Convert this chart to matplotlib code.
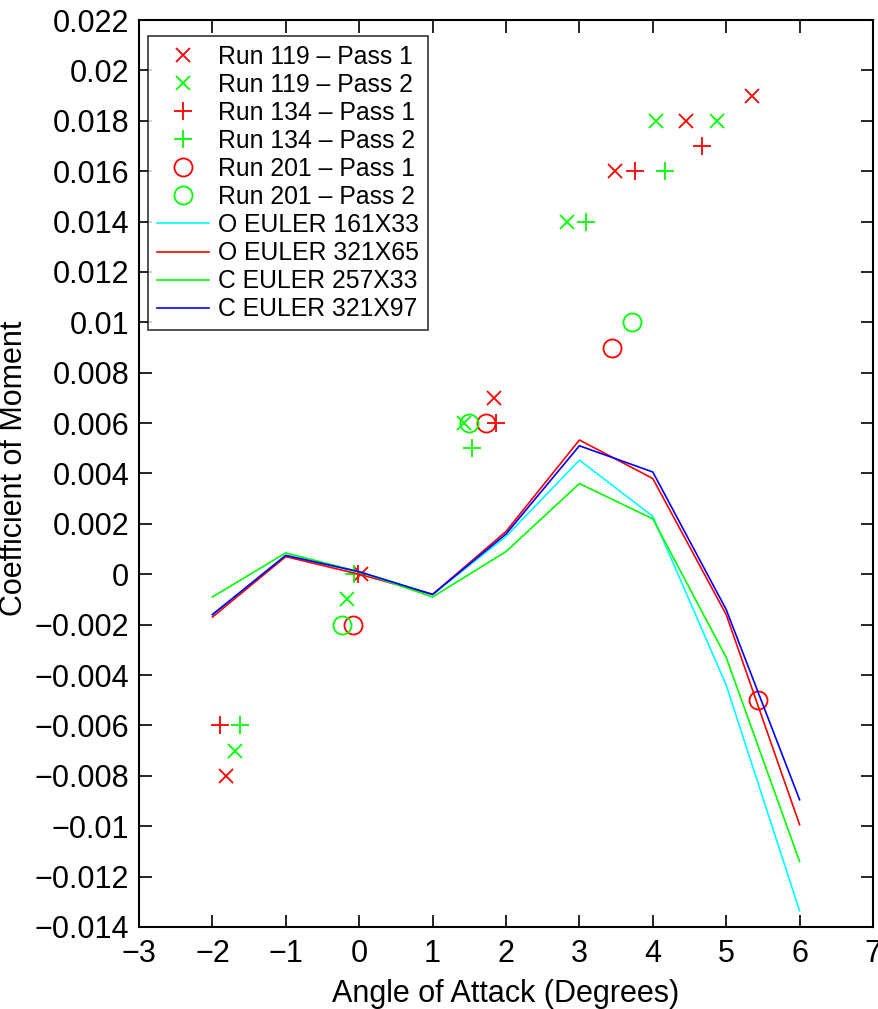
# Coefficient of moment vs angle of attack, experiment runs vs Euler solutions

import matplotlib
matplotlib.use("Agg")
import matplotlib.pyplot as plt
from matplotlib.ticker import FuncFormatter

plt.rcParams['font.family'] = ['Liberation Sans', 'DejaVu Sans']

# wind tunnel runs (angle, cm)
r119p1_x = [-1.81, 0.02, 1.84, 3.49, 4.45, 5.35]
r119p1_y = [-0.008, 0.0, 0.007, 0.016, 0.018, 0.019]
r119p2_x = [-1.69, -0.17, 1.43, 2.83, 4.05, 4.87]
r119p2_y = [-0.007, -0.001, 0.006, 0.014, 0.018, 0.018]
r134p1_x = [-1.89, -0.02, 1.87, 3.76, 4.67]
r134p1_y = [-0.006, 0.0, 0.006, 0.016, 0.017]
r134p2_x = [-1.63, -0.07, 1.53, 3.09, 4.17]
r134p2_y = [-0.006, 0.0, 0.005, 0.014, 0.016]
r201p1_x = [-0.08, 1.73, 3.45, 5.44]
r201p1_y = [-0.002, 0.006, 0.009, -0.005]
r201p2_x = [-0.24, 1.50, 3.71]
r201p2_y = [-0.002, 0.006, 0.010]

# euler solutions
alpha = [-2, -1, 0, 1, 2, 3, 4, 5, 6]
o161 = [-0.0016, 0.00075, 0.0001, -0.0008, 0.0015, 0.00453, 0.0023, -0.0044, -0.01336]
o321 = [-0.0017, 0.0007, 0.0, -0.0008, 0.0017, 0.00533, 0.0038, -0.0016, -0.00994]
c257 = [-0.0009, 0.00085, 0.0001, -0.0009, 0.0009, 0.0036, 0.0022, -0.0033, -0.0114]
c321 = [-0.0016, 0.00075, 0.0001, -0.0008, 0.0016, 0.0051, 0.00406, -0.0014, -0.00895]

fig = plt.figure(figsize=(8.79, 10.09), dpi=100)
ax = fig.add_axes([139/879, 1-927/1009, (873-139)/879, (927-20)/1009])

red = '#ff0000'
green = '#00ff00'
ax.plot(r119p1_x, r119p1_y, 'x', color=red, ms=10, mew=1.3, label='Run 119 – Pass 1')
ax.plot(r119p2_x, r119p2_y, 'x', color=green, ms=10, mew=1.3, label='Run 119 – Pass 2')
ax.plot(r134p1_x, r134p1_y, '+', color=red, ms=13, mew=1.3, label='Run 134 – Pass 1')
ax.plot(r134p2_x, r134p2_y, '+', color=green, ms=13, mew=1.3, label='Run 134 – Pass 2')
ax.plot(r201p1_x, r201p1_y, 'o', color=red, mfc='none', ms=13, mew=1.3, label='Run 201 – Pass 1')
ax.plot(r201p2_x, r201p2_y, 'o', color=green, mfc='none', ms=13, mew=1.3, label='Run 201 – Pass 2')
ax.plot(alpha, o161, color='#00ffff', lw=1.2, label='O EULER 161X33')
ax.plot(alpha, o321, color=red, lw=1.2, label='O EULER 321X65')
ax.plot(alpha, c257, color=green, lw=1.2, label='C EULER 257X33')
ax.plot(alpha, c321, color='#0000ff', lw=1.2, label='C EULER 321X97')

ax.set_xlim(-3, 7)
ax.set_ylim(-0.014, 0.022)
ax.set_xticks(range(-3, 8))
ax.set_yticks([i * 0.002 for i in range(-7, 12)])
ax.xaxis.set_major_formatter(FuncFormatter(lambda v, p: ('%g' % v).replace('-', '\u2212')))
ax.yaxis.set_major_formatter(FuncFormatter(lambda v, p: ('%g' % round(v, 4)).replace('-', '\u2212')))
ax.tick_params(direction='in', length=9, width=1.2, labelsize=22, top=True, right=True, pad=7)
ax.tick_params(axis='x', pad=9)
for s in ax.spines.values():
    s.set_linewidth(1.5)

ax.set_xlabel('Angle of Attack (Degrees)', fontsize=22, labelpad=7)
fig.text(29/879, 1-468/1009, 'Coefficient of Moment', rotation=90, ha='right', va='center', fontsize=22)

leg = ax.legend(loc='upper left', bbox_to_anchor=(9/734, 1-16/907), borderaxespad=0,
                fontsize=17.8, frameon=True, fancybox=False, edgecolor='black',
                handlelength=2.1, labelspacing=0.165, borderpad=0.35, handletextpad=0.4)
leg.get_frame().set_linewidth(1.2)

fig.savefig('out.png', dpi=100)
